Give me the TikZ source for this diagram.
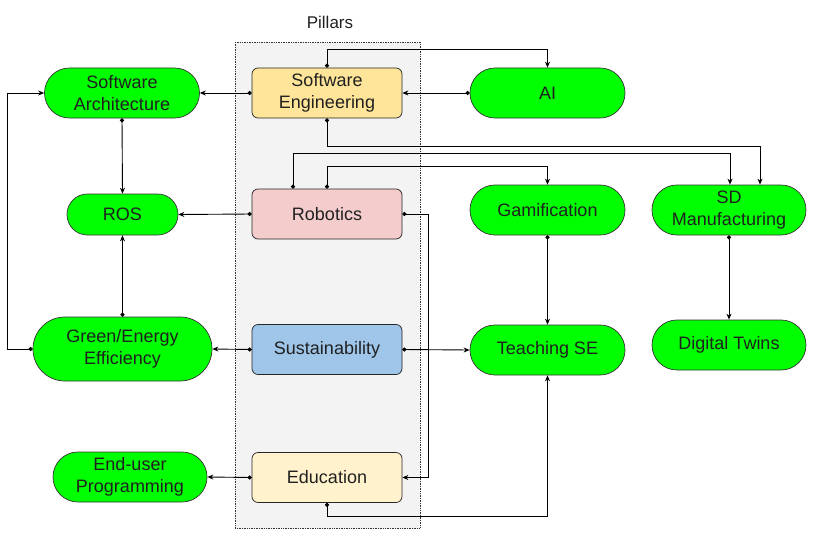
\documentclass[tikz,border=0pt]{standalone}
\usepackage{fontspec}
\setmainfont{Liberation Sans}
\usetikzlibrary{arrows.meta}
\definecolor{gr}{HTML}{00FF00}
\definecolor{seY}{HTML}{FFE599}
\definecolor{robP}{HTML}{F4CCCC}
\definecolor{susB}{HTML}{9FC5E8}
\definecolor{eduY}{HTML}{FFF2CC}
\definecolor{pil}{HTML}{F3F3F3}
\definecolor{txt}{HTML}{202020}
\tikzset{
  pillar/.style={draw=black!85, line width=0.7pt, rounded corners=6pt, minimum width=150pt, minimum height=50pt, inner sep=0pt, align=center, text=txt, font=\fontsize{18}{22}\selectfont},
  topic/.style={draw=black!80, line width=0.7pt, fill=gr, minimum width=155pt, minimum height=50pt, rounded corners=24.9pt, inner sep=0pt, align=center, text=txt, font=\fontsize{18}{22}\selectfont},
  link/.style={line width=0.9pt, {Circle[length=4pt]}-{Stealth[length=6pt,width=5pt]}}
}
\begin{document}
\begin{tikzpicture}[x=1pt,y=-1pt]
\useasboundingbox (0,0) rectangle (817,551);
\fill[white] (0,0) rectangle (817,551);
% pillars background
\draw[pil, fill=pil] (235,42) rectangle (420,528);
\draw[black!80, densely dotted, line width=0.7pt] (235,42) rectangle (420,528);
\node[text=txt, font=\fontsize{17}{20}\selectfont] (pt) at (330,22) {Pillars};
% pillar boxes
\node[pillar, fill=seY] (se) at (327,93) {Software\\Engineering};
\node[pillar, fill=robP] (rob) at (327,214) {Robotics};
\node[pillar, fill=susB] (sus) at (327,349.5) {Sustainability};
\node[pillar, fill=eduY] (edu) at (327,477.5) {Education};
% topics
\node[topic] (sa) at (122,93) {Software\\Architecture};
\node[topic, minimum width=111pt, minimum height=41pt, rounded corners=20.4pt] (ros) at (122.5,214.5) {ROS};
\node[topic, minimum width=179pt, minimum height=64pt, rounded corners=31.9pt] (gee) at (122.5,349) {Green/Energy\\Efficiency};
\node[topic, minimum width=154pt] (eup) at (130,477) {End-user\\Programming};
\node[topic] (ai) at (547.5,93) {AI};
\node[topic] (gam) at (547.5,210) {Gamification};
\node[topic] (tse) at (547.5,350) {Teaching SE};
\node[topic, minimum width=154pt] (sdm) at (729,210) {SD\\Manufacturing};
\node[topic, minimum width=154pt] (dt) at (729,345) {Digital Twins};
% connectors
\draw[link] (se.north) -- ++(0,-18) -| (ai.north);
\draw[link] (ai.west) -- (se.east);
\draw[link] (se.west) -- (sa.east);
\draw[link] (se.south) -- ++(0,28) -| ([xshift=31pt]sdm.north);
\draw[link] ([xshift=-34pt]rob.north) -- ++(0,-35) -| ([xshift=1pt]sdm.north);
\draw[link] (rob.north) -- ++(0,-22) -| (gam.north);
\draw[link] (rob.west) -- (ros.east);
\draw[link] (rob.east) -- ++(26,0) |- (edu.east);
\draw[link] (sa.south) -- (ros.north);
\draw[link] (gee.north) -- (ros.south);
\draw[link] (gee.west) -- ++(-25,0) |- (sa.west);
\draw[link] (sus.west) -- (gee.east);
\draw[link] (sus.east) -- (tse.west);
\draw[link] (gam.south) -- (tse.north);
\draw[link] (edu.south) -- ++(0,14) -| (tse.south);
\draw[link] (sdm.south) -- (dt.north);
\draw[link] (edu.west) -- (eup.east);
\end{tikzpicture}
\end{document}
